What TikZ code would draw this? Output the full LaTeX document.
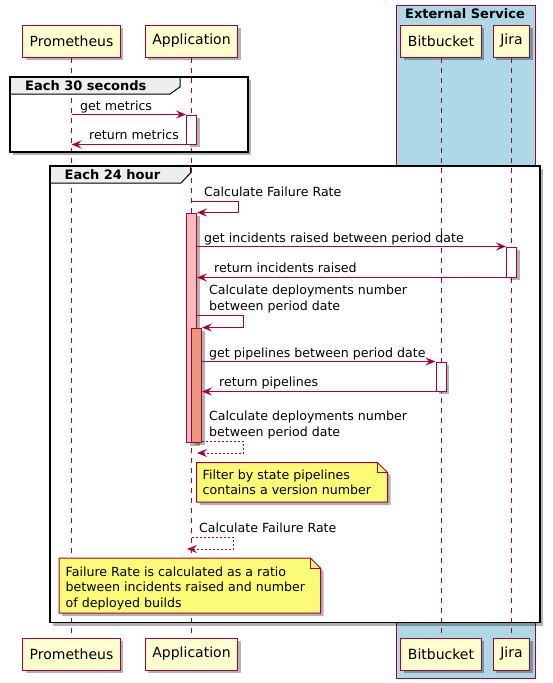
\documentclass[tikz,border=0pt]{standalone}
\usepackage{fontspec}
\setmainfont{DejaVu Sans}
\usetikzlibrary{arrows.meta,shadows}

\definecolor{umlred}{HTML}{A80036}
\definecolor{umlpart}{HTML}{FEFECE}
\definecolor{umlnote}{HTML}{FBFB77}
\definecolor{umltab}{HTML}{EEEEEE}
\definecolor{umlblue}{HTML}{ADD8E6}
\definecolor{actpink}{HTML}{FFBBBB}
\definecolor{actsalmon}{HTML}{E9967A}

\tikzset{
  umlshadow/.style={drop shadow={shadow xshift=3pt,shadow yshift=-3pt,opacity=0.3,fill=black}},
  participant/.style={draw=umlred,fill=umlpart,line width=1pt,minimum height=32pt,inner xsep=7pt,font=\fontsize{14}{16}\selectfont,umlshadow},
  lifeline/.style={draw=umlred,line width=1pt,dash pattern=on 5pt off 5pt},
  actbox/.style={draw=umlred,fill=white,line width=1pt,minimum width=10pt,inner sep=0pt,umlshadow},
  msg/.style={draw=umlred,line width=1pt,-{Stealth[length=10pt,width=8pt,inset=4pt]}},
  retmsg/.style={msg,dash pattern=on 2pt off 2pt},
  msglabel/.style={inner sep=0pt,anchor=base west,align=left,font=\fontsize{12.6}{15.3}\selectfont},
  grouptitle/.style={inner sep=0pt,anchor=base west,font=\fontsize{13}{15}\selectfont\bfseries},
  framefill/.style={fill=white,umlshadow},
  frameline/.style={draw=black,line width=1.5pt},
  tabline/.style={draw=black,line width=1pt},
  note/.style={draw=umlred,fill=umlnote,line width=1pt,umlshadow},
}

\def\xprom{71.5}
\def\xapp{191.5}
\def\xbit{441}
\def\xjira{511.5}
\def\ytop{41}
\def\ybot{654}

\begin{document}
\begin{tikzpicture}[x=1pt,y=-1pt]
        \useasboundingbox (0,0) rectangle (553,683);
        \draw [draw=umlred,fill=umlblue,line width=1pt] (396,5) rectangle (535,678);
        \node[grouptitle,anchor=base] (extTitle) at (465,18) {External Service};

        \path[framefill] (10,77) rectangle (248,152);
        \path[framefill] (50,166) rectangle (540,622.5);

        \node[participant] (prom) at (\xprom,\ytop) {Prometheus};
        \node[participant] (app) at (\xapp,\ytop) {Application};
        \node[participant] (bit) at (\xbit,\ytop) {Bitbucket};
        \node[participant] (jira) at (\xjira,\ytop) {Jira};
        \node[participant] (promB) at (\xprom,\ybot) {Prometheus};
        \node[participant] (appB) at (\xapp,\ybot) {Application};
        \node[participant] (bitB) at (\xbit,\ybot) {Bitbucket};
        \node[participant] (jiraB) at (\xjira,\ybot) {Jira};

        \draw[lifeline] (prom.south) -- (promB.north);
        \draw[lifeline] (app.south) -- (appB.north);
        \draw[lifeline] (bit.south) -- (bitB.north);
        \draw[lifeline] (jira.south) -- (jiraB.north);

        \fill[umltab] (10,77) -- (180,77) -- (180,87) -- (170,94) -- (10,94) -- cycle;
        \draw[tabline] (180,77) -- (180,87) -- (170,94) -- (10,94);
        \draw[frameline] (10,77) rectangle (248,152);
        \node[grouptitle] (grpA) at (25,90) {Each 30 seconds};

        \fill[umltab] (50,166) -- (190.5,166) -- (190.5,173) -- (181,183) -- (50,183) -- cycle;
        \draw[tabline] (190.5,166) -- (190.5,173) -- (181,183) -- (50,183);
        \draw[frameline] (50,166) rectangle (540,622.5);
        \node[grouptitle] (grpB) at (64.5,179.5) {Each 24 hour};

        \node[actbox,minimum height=29pt] (actM) at (\xapp,129.5) {};
        \draw[msg] (prom |- actM.north) -- (actM.north west);
        \node[msglabel] (lblGet) at (80,110) {get metrics};
        \draw[msg] (actM.south west) -- (prom |- actM.south);
        \node[msglabel] (lblRet) at (89,139) {return metrics};

        \node[actbox,fill=actpink,minimum height=229.6pt] (actB) at (\xapp,327.8) {};
        \draw[msg] (app |- 0,201) -- ++(47,0) |- (actB.north east);
        \node[msglabel] (lblCalc) at (204,196) {Calculate Failure Rate};

        \node[actbox,minimum height=30pt] (actJ) at (\xjira,262) {};
        \draw[msg] (actB.east |- actJ.north) -- (actJ.north west);
        \node[msglabel] (lblInc) at (204,242) {get incidents raised between period date};
        \draw[msg] (actJ.south west) -- (actB.east |- actJ.south);
        \node[msglabel] (lblIncR) at (214,272) {return incidents raised};

        \node[actbox,fill=actsalmon,minimum height=114pt] (actC) at (196.5,385) {};
        \draw[msg] (actB.east |- 0,315) -- ++(46.5,0) |- (actC.north east);
        \node[msglabel] (lblDep) at (209,310) {Calculate deployments number\\between period date};

        \node[actbox,minimum height=29pt] (actBit) at (\xbit,376.5) {};
        \draw[msg] (actC.east |- actBit.north) -- (actBit.north west);
        \node[msglabel] (lblPipe) at (209,357) {get pipelines between period date};
        \draw[msg] (actBit.south west) -- (actC.east |- actBit.south);
        \node[msglabel] (lblPipeR) at (219,386) {return pipelines};

        \draw[retmsg] (actC.east |- 0,441) -- ++(41.5,0) |- (actB.east |- 0,453);
        \node[msglabel] (lblDepR) at (209,436) {Calculate deployments number\\between period date};

        \draw[note] (196.5,462.5) -- (377.5,462.5) -- (387.5,472.5) -- (387.5,502) -- (196.5,502) -- cycle;
        \draw[draw=umlred,line width=1pt] (377.5,462.5) -- (377.5,472.5) -- (387.5,472.5);
        \node[msglabel] (noteFilter) at (202.5,494.5) {Filter by state pipelines\\contains a version number};

        \coordinate (calcEnd) at (187,549);
        \draw[retmsg] (app |- 0,537) -- ++(41.5,0) |- (calcEnd);
        \node[msglabel] (lblCalcR) at (199,532) {Calculate Failure Rate};

        \draw[note] (59,558) -- (310.5,558) -- (320.5,568) -- (320.5,613) -- (59,613) -- cycle;
        \draw[draw=umlred,line width=1pt] (310.5,558) -- (310.5,568) -- (320.5,568);
        \node[msglabel] (noteRate) at (65.5,607) {Failure Rate is calculated as a ratio\\between incidents raised and number\\of deployed builds};
    \end{tikzpicture}
\end{document}
